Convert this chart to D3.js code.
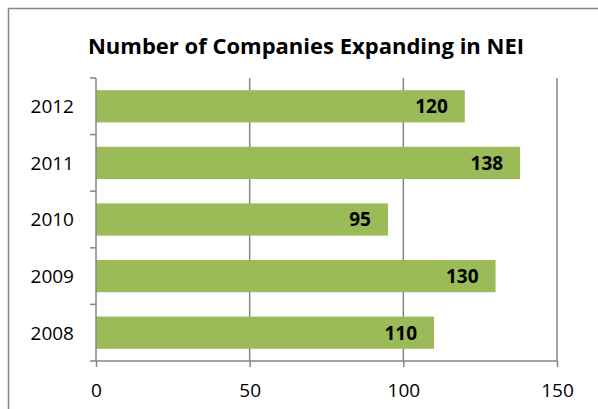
<!DOCTYPE html>
<html lang="en">
<head>
    <meta charset="UTF-8">
    <title>Number of Companies Expanding in NEI</title>
    <script src="https://d3js.org/d3.v7.min.js"></script>
    <style>
        body { margin: 0; background: #fff; font-family: "Open Sans", sans-serif; }
        svg { display: block; }
    </style>
</head>
<body>
    <svg width="598" height="409"></svg>
    <script>
        // chart data
        const years = ["2012", "2011", "2010", "2009", "2008"];
        const companies = [120, 138, 95, 130, 110];
        const xTicks = [0, 50, 100, 150];
        const title = "Number of Companies Expanding in NEI";

        const svg = d3.select("svg");
        const gridColor = "#868686";
        const barColor = "#9bbb59";
        const font = "'Open Sans', sans-serif";

        // outer chart frame
        svg.append("rect")
            .attr("x", 8.5).attr("y", 8.5)
            .attr("width", 620).attr("height", 420)
            .attr("fill", "#fff")
            .attr("stroke", gridColor)
            .attr("stroke-width", 1.5);

        svg.append("text")
            .attr("x", 306).attr("y", 54)
            .attr("text-anchor", "middle")
            .attr("font-weight", "bold")
            .attr("font-size", 22)
            .text(title);

        const plot = { left: 96, right: 557, top: 78, bottom: 361 };

        const x = d3.scaleLinear().domain([0, 150]).range([plot.left, plot.right]);
        const y = d3.scaleBand().domain(years).range([plot.top, plot.bottom]).paddingInner(0.43).paddingOuter(0.215);

        // vertical gridlines
        svg.append("g")
            .selectAll("line")
            .data(xTicks.slice(1))
            .join("line")
            .attr("x1", d => x(d)).attr("x2", d => x(d))
            .attr("y1", plot.top).attr("y2", plot.bottom)
            .attr("stroke", gridColor).attr("stroke-width", 1.5);

        // bars
        svg.append("g")
            .selectAll("rect")
            .data(companies)
            .join("rect")
            .attr("x", x(0))
            .attr("y", (d, i) => y(years[i]))
            .attr("width", d => x(d) - x(0))
            .attr("height", y.bandwidth())
            .attr("fill", barColor);

        // value labels
        svg.append("g")
            .selectAll("text")
            .data(companies)
            .join("text")
            .attr("x", d => x(d) - 17)
            .attr("y", (d, i) => y(years[i]) + y.bandwidth() / 2)
            .attr("dy", "0.36em")
            .attr("text-anchor", "end")
            .attr("font-weight", "bold")
            .attr("font-size", 19)
            .text(d => d);

        // x axis
        const xAxis = svg.append("g")
            .attr("transform", `translate(0,${plot.bottom})`)
            .call(d3.axisBottom(x).tickValues(xTicks).tickSize(6).tickPadding(17));
        xAxis.select(".domain").attr("stroke", gridColor).attr("stroke-width", 1.5).attr("d", `M${plot.left},0H${plot.right}`);
        xAxis.selectAll(".tick line").attr("stroke", gridColor).attr("stroke-width", 1.5);
        xAxis.selectAll(".tick text").attr("font-size", 19).attr("font-family", font).attr("fill", "#000");

        // y axis with ticks between categories
        svg.append("line")
            .attr("x1", plot.left).attr("x2", plot.left)
            .attr("y1", plot.top).attr("y2", plot.bottom)
            .attr("stroke", gridColor).attr("stroke-width", 1.5);

        svg.append("g")
            .selectAll("line")
            .data(d3.range(years.length + 1))
            .join("line")
            .attr("x1", plot.left - 6).attr("x2", plot.left)
            .attr("y1", i => plot.top + i * (plot.bottom - plot.top) / years.length)
            .attr("y2", i => plot.top + i * (plot.bottom - plot.top) / years.length)
            .attr("stroke", gridColor).attr("stroke-width", 1.5);

        svg.append("g")
            .selectAll("text")
            .data(years)
            .join("text")
            .attr("x", 74)
            .attr("y", d => y(d) + y.bandwidth() / 2)
            .attr("dy", "0.36em")
            .attr("text-anchor", "end")
            .attr("font-size", 19)
            .text(d => d);
    </script>
</body>
</html>
